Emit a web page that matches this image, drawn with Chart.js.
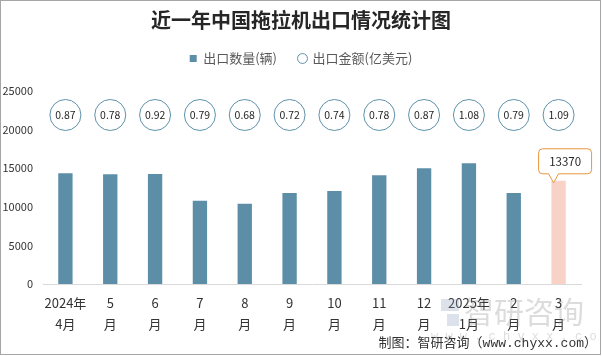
<!DOCTYPE html>
<html>
<head>
<meta charset="utf-8">
<script src="https://cdn.jsdelivr.net/npm/chart.js@4/dist/chart.umd.min.js"></script>
<style>
html,body{margin:0;padding:0;background:#fff;}
canvas{display:block;}
</style>
</head>
<body>
<canvas id="c" width="602" height="356"></canvas>
<script>
const monthTop = ['2024年','5','6','7','8','9','10','11','12','2025年','2','3'];
const monthBottom = ['4月','月','月','月','月','月','月','月','月','1月','月','月'];
const exportQty = [14360, 14230, 14240, 10770, 10390, 11800, 12050, 14100, 15000, 15640, 11800, 13370];
const exportAmt = [0.87, 0.78, 0.92, 0.79, 0.68, 0.72, 0.74, 0.78, 0.87, 1.08, 0.79, 1.09];
const yTicks = [0, 5000, 10000, 15000, 20000, 25000];
const seriesNames = ['出口数量(辆)', '出口金额(亿美元)'];
const titleText = '近一年中国拖拉机出口情况统计图';
const sourceText = '制图：智研咨询（www.chyxx.com）';

const categories = monthTop.map((t, i) => [t, monthBottom[i]]);
const BAR = '#5C8FA7';
const HIGHLIGHT = '#F8D1C7';
const CIRCLE = '#5E92AB';
const lastIdx = exportQty.length - 1;

const CJK = '"Noto Sans CJK SC", "Noto Sans", sans-serif';

const decor = {
  id: 'decor',
  beforeDraw(chart) {
    const ctx = chart.ctx;
    ctx.save();
    ctx.fillStyle = '#fff';
    ctx.fillRect(0, 0, chart.width, chart.height);
    ctx.restore();
  },
  afterDatasetsDraw(chart) {
    const ctx = chart.ctx;
    const xs = chart.scales.x;
    const area = chart.chartArea;
    // amount circles
    ctx.save();
    exportAmt.forEach((v, i) => {
      const x = xs.getPixelForValue(i);
      const y = area.top + 24;
      ctx.beginPath();
      ctx.arc(x, y, 15.5, 0, Math.PI * 2);
      ctx.fillStyle = '#fff';
      ctx.fill();
      ctx.lineWidth = 1;
      ctx.strokeStyle = CIRCLE;
      ctx.stroke();
      ctx.fillStyle = '#262626';
      ctx.font = '10.5px ' + CJK;
      ctx.textAlign = 'center';
      ctx.textBaseline = 'middle';
      ctx.fillText(v.toFixed(2), x, y + 0.5);
    });
    ctx.restore();
    // callout on last bar
    const bar = chart.getDatasetMeta(0).data[lastIdx];
    const cx = bar.x, top = bar.y;
    const bl = cx - 20, br = cx + 33, bb = top - 7, bt = top - 32, r = 4;
    ctx.save();
    ctx.beginPath();
    ctx.moveTo(bl + r, bt);
    ctx.lineTo(br - r, bt);
    ctx.arcTo(br, bt, br, bt + r, r);
    ctx.lineTo(br, bb - r);
    ctx.arcTo(br, bb, br - r, bb, r);
    ctx.lineTo(cx, bb);
    ctx.lineTo(cx - 5, top + 2);
    ctx.lineTo(cx - 10, bb);
    ctx.lineTo(bl + r, bb);
    ctx.arcTo(bl, bb, bl, bb - r, r);
    ctx.lineTo(bl, bt + r);
    ctx.arcTo(bl, bt, bl + r, bt, r);
    ctx.closePath();
    ctx.fillStyle = '#fff';
    ctx.fill();
    ctx.lineWidth = 1;
    ctx.strokeStyle = '#E8963F';
    ctx.stroke();
    ctx.fillStyle = '#262626';
    ctx.font = '11.5px ' + CJK;
    ctx.textAlign = 'center';
    ctx.textBaseline = 'middle';
    ctx.fillText(String(exportQty[lastIdx]), (bl + br) / 2, (bt + bb) / 2 + 0.5);
    ctx.restore();
  },
  afterDraw(chart) {
    const ctx = chart.ctx;
    ctx.save();
    // watermark
    ctx.globalAlpha = 0.3;
    ctx.fillStyle = '#8a9bb8';
    ctx.fillRect(441, 299, 18, 12);
    ctx.fillRect(447, 314, 12, 12);
    ctx.fillStyle = '#8c8c8c';
    ctx.font = '30px ' + CJK;
    ctx.textAlign = 'left';
    ctx.textBaseline = 'middle';
    ctx.fillText('智研咨询', 464, 312);
    ctx.font = '12px "Liberation Mono", monospace';
    ctx.fillText('w w w . c h y x x . c o m', 431, 337);
    ctx.globalAlpha = 1;
    // source
    ctx.fillStyle = '#333';
    ctx.font = '13px "Liberation Mono", "Noto Sans CJK SC", monospace';
    ctx.textAlign = 'right';
    ctx.fillText(sourceText, 597, 344);
    // border
    ctx.strokeStyle = '#a6a6a6';
    ctx.lineWidth = 1;
    ctx.strokeRect(0.5, 0.5, 600, 354);
    ctx.restore();
  }
};

const legendGrow = {
  id: 'legendGrow',
  beforeInit(chart) {
    const lg = chart.legend;
    if (lg) {
      const orig = lg.fit;
      lg.fit = function () { orig.call(lg); lg.height += 16; };
    }
  },
  afterLayout(chart) {
    // centre title and legend on the canvas rather than on the padded area
    [chart.legend, chart.titleBlock].forEach(b => {
      if (b) { b.left = 21; b.right = chart.width - 21; }
    });
  }
};

new Chart(document.getElementById('c'), {
  data: {
    labels: categories,
    datasets: [
      {
        type: 'bar',
        label: seriesNames[0],
        data: exportQty,
        backgroundColor: exportQty.map((v, i) => i === lastIdx ? HIGHLIGHT : BAR),
        borderWidth: 0,
        barPercentage: 0.32,
        categoryPercentage: 1,
        pointStyle: 'rect'
      },
      {
        type: 'line',
        label: seriesNames[1],
        data: exportAmt,
        showLine: false,
        pointRadius: 0,
        pointHoverRadius: 0,
        pointStyle: 'circle',
        borderColor: CIRCLE,
        backgroundColor: '#fff',
        borderWidth: 1
      }
    ]
  },
  options: {
    responsive: false,
    animation: false,
    devicePixelRatio: 1,
    layout: { padding: { top: 10, left: 0, right: 21, bottom: 0 } },
    plugins: {
      title: {
        display: true,
        text: titleText,
        color: '#262626',
        font: { family: CJK, size: 20, weight: 'bold', lineHeight: 1 },
        padding: { top: 0, bottom: 0 }
      },
      legend: {
        display: true,
        position: 'top',
        labels: {
          usePointStyle: true,
          boxWidth: 7,
          boxHeight: 7,
          padding: 22,
          color: '#595959',
          font: { family: CJK, size: 13 },
          sort: (a, b) => a.datasetIndex - b.datasetIndex
        }
      },
      tooltip: { enabled: false }
    },
    scales: {
      x: {
        grid: { display: false, drawTicks: false },
        border: { display: true, color: '#d9d9d9', width: 1 },
        ticks: {
          color: '#333',
          padding: 9,
          maxRotation: 0,
          autoSkip: false,
          font: { family: CJK, size: 13, lineHeight: 1.6 }
        },
        afterFit(s) { s.height = 72; }
      },
      y: {
        min: 0,
        max: 25000,
        grid: { display: false, drawTicks: false },
        border: { display: false },
        afterBuildTicks(s) { s.ticks = yTicks.map(v => ({ value: v })); },
        ticks: {
          color: '#333',
          padding: 10,
          font: { family: CJK, size: 11 },
          callback: (v) => String(v)
        },
        afterFit(s) { s.width = 43; }
      }
    }
  },
  plugins: [decor, legendGrow]
});
</script>
</body>
</html>
